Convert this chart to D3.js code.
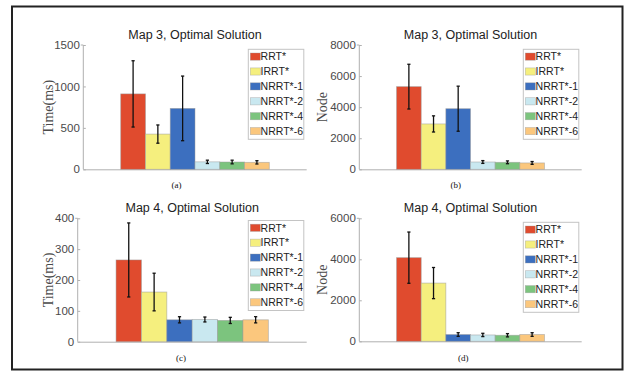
<!DOCTYPE html>
<html><head><meta charset="utf-8">
<script src="https://cdn.jsdelivr.net/npm/d3@7"></script>
<style>body{margin:0;background:#fff}svg{display:block}</style>
</head><body>
<svg id="c" width="625" height="372"></svg>
<script>
const series = ["RRT*","IRRT*","NRRT*-1","NRRT*-2","NRRT*-4","NRRT*-6"];
const colors = ["#E04B2E","#F5EF7E","#3C6FBF","#C9E8F0","#7CC47E","#FBC77D"];
const timeMap3 = [910,425,735,90,88,84];
const timeMap3Err = [400,110,390,20,22,20];
const nodeMap3 = [5320,2920,3900,470,450,410];
const nodeMap3Err = [1440,520,1450,90,90,90];
const timeMap4 = [265,161,71,72,69,71];
const timeMap4Err = [120,61,10,8,10,10];
const nodeMap4 = [4080,2840,330,310,295,330];
const nodeMap4Err = [1250,760,90,80,80,90];
const ticksTime3 = [0,500,1000,1500];
const ticksNode3 = [0,2000,4000,6000,8000];
const ticksTime4 = [0,100,200,300,400];
const ticksNode4 = [0,2000,4000,6000];

const panels = [
  {title:"Map 3, Optimal Solution", ylab:"Time(ms)", vals:timeMap3, err:timeMap3Err, ticks:ticksTime3, max:1500, sub:"(a)",
   x0:83.3, x1:306.7, yT:45, yB:169.3, labX:48, subX:176.5, subY:188, leg:[248.3,49.3]},
  {title:"Map 3, Optimal Solution", ylab:"Node", vals:nodeMap3, err:nodeMap3Err, ticks:ticksNode3, max:8000, sub:"(b)",
   x0:359.3, x1:581.7, yT:45, yB:169.3, labX:322, subX:455.7, subY:188, leg:[523.3,49.3]},
  {title:"Map 4, Optimal Solution", ylab:"Time(ms)", vals:timeMap4, err:timeMap4Err, ticks:ticksTime4, max:400, sub:"(c)",
   x0:77.7, x1:306.7, yT:218.3, yB:341.7, labX:48, subX:181, subY:360.5, leg:[248.3,220.5]},
  {title:"Map 4, Optimal Solution", ylab:"Node", vals:nodeMap4, err:nodeMap4Err, ticks:ticksNode4, max:6000, sub:"(d)",
   x0:359.3, x1:581.7, yT:218.3, yB:341.3, labX:322, subX:463.3, subY:360.5, leg:[523.3,222.3]}
];

const svg = d3.select("#c");
svg.append("rect").attr("x",12).attr("y",6.5).attr("width",610.5).attr("height",363)
  .attr("fill","none").attr("stroke","#222").attr("stroke-width",2);

panels.forEach(p => {
  const g = svg.append("g");
  const y = d3.scaleLinear().domain([0,p.max]).range([p.yB,p.yT]);
  const xAxis = d3.scaleLinear().domain([0,1]).range([p.x0,p.x1]);
  const band = d3.scaleBand().domain(series).range([xAxis(0.1675), xAxis(0.8325)]).padding(0);

  // axes
  const ya = g.append("g").attr("transform",`translate(${p.x0},0)`)
    .call(d3.axisLeft(y).tickValues(p.ticks).tickSize(-2.5).tickPadding(3.5).tickFormat(d3.format("d")));
  ya.select(".domain").attr("stroke","#b0b0b0").attr("stroke-width",1).attr("d",`M-2.5,${p.yT}H0V${p.yB}`);
  ya.selectAll(".tick line").attr("stroke","#b0b0b0");
  ya.selectAll(".tick text").attr("fill","#4a4a4a").style("font-family","Liberation Sans, Arial, sans-serif").style("font-size","11.5px");
  g.append("line").attr("x1",p.x0).attr("x2",p.x1).attr("y1",p.yB+0.5).attr("y2",p.yB+0.5)
    .attr("stroke","#b0b0b0").attr("stroke-width",1);

  // bars
  g.selectAll("rect.bar").data(p.vals).join("rect").attr("class","bar")
    .attr("x",(d,i)=>band(series[i])).attr("width",band.bandwidth())
    .attr("y",d=>y(d)).attr("height",d=>p.yB-y(d))
    .attr("fill",(d,i)=>colors[i]).attr("stroke","#9a9a9a").attr("stroke-opacity",0.6).attr("stroke-width",0.8);

  // error bars
  p.vals.forEach((v,i)=>{
    const cx = band(series[i]) + band.bandwidth()/2;
    const e = p.err[i];
    g.append("line").attr("x1",cx).attr("x2",cx).attr("y1",y(v+e)).attr("y2",y(v-e)).attr("stroke","#111").attr("stroke-width",1.3);
    [v+e,v-e].forEach(t=>g.append("line").attr("x1",cx-1.6).attr("x2",cx+1.6).attr("y1",y(t)).attr("y2",y(t)).attr("stroke","#111").attr("stroke-width",1.3));
  });

  // title
  g.append("text").attr("x",(p.x0+p.x1)/2).attr("y",p.yT-6.5).attr("text-anchor","middle")
    .style("font-family","Liberation Sans, Arial, sans-serif").style("font-size","12.5px").attr("fill","#222").text(p.title);

  // y label
  g.append("text").attr("transform",`translate(${p.labX},${(p.yT+p.yB)/2}) rotate(-90)`).attr("text-anchor","middle")
    .attr("dy","0.35em").style("font-family","Liberation Serif, Times New Roman, serif").style("font-size","14px").attr("fill","#4a4a4a").text(p.ylab);

  // sub label
  g.append("text").attr("x",p.subX).attr("y",p.subY).attr("text-anchor","middle")
    .style("font-family","Liberation Serif, Times New Roman, serif").style("font-size","9px").attr("fill","#111").text(p.sub);

  // legend
  const lx = p.leg[0], ly = p.leg[1];
  const lg = g.append("g");
  lg.append("rect").attr("x",lx).attr("y",ly).attr("width",55.5).attr("height",90).attr("fill","#fff").attr("stroke","#c4c4c4").attr("stroke-width",1);
  series.forEach((s,i)=>{
    const yy = ly + 7.3 + i*14.9;
    lg.append("rect").attr("x",lx+2).attr("y",yy-3.6).attr("width",10).attr("height",7.2)
      .attr("fill",colors[i]).attr("stroke","#9a9a9a").attr("stroke-opacity",0.6).attr("stroke-width",0.6);
    lg.append("text").attr("x",lx+12.3).attr("y",yy).attr("dy","0.36em")
      .style("font-family","Liberation Sans, Arial, sans-serif").style("font-size","10.5px").attr("fill","#222").text(s);
  });
});
</script>
</body></html>
